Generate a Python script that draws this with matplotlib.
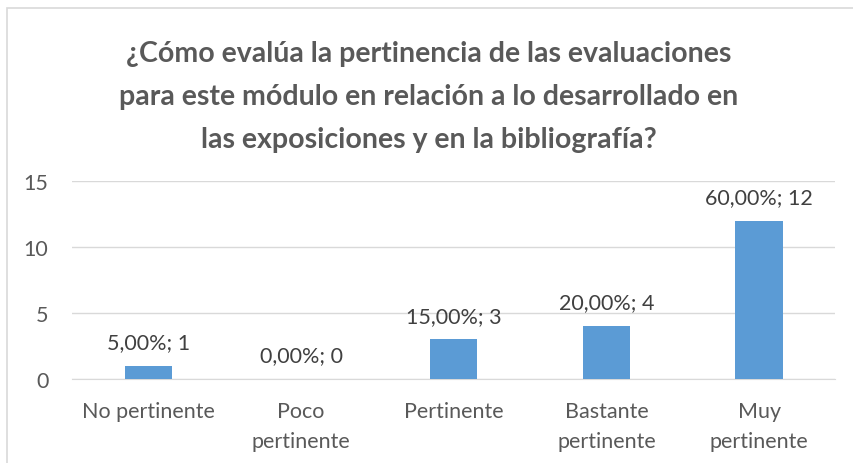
import matplotlib
matplotlib.use('Agg')
import matplotlib.pyplot as plt
from matplotlib.patches import Rectangle

plt.rcParams['font.family'] = ['Lato', 'DejaVu Sans']

# data
categories = ['No pertinente', 'Poco\npertinente', 'Pertinente', 'Bastante\npertinente', 'Muy\npertinente']
counts = [1, 0, 3, 4, 12]
percents = ['5,00%', '0,00%', '15,00%', '20,00%', '60,00%']
title = ('¿Cómo evalúa la pertinencia de las evaluaciones\n'
         'para este módulo en relación a lo desarrollado en\n'
         'las exposiciones y en la bibliografía?')

fig = plt.figure(figsize=(8.54, 4.64), dpi=100)
ax = fig.add_axes([0.0843, 0.181, 0.894, 0.427])

x = range(len(categories))
ax.bar(x, counts, width=0.31, color='#5B9BD5', zorder=3)
for i, (c, p) in enumerate(zip(counts, percents)):
    ax.annotate(f'{p}; {c}', (i, c), xytext=(0, 17), textcoords='offset points',
                ha='center', va='center', fontsize=15.5, color='#404040')

ax.set_ylim(0, 15)
ax.set_xlim(-0.5, len(categories) - 0.5)
ax.set_yticks([0, 5, 10, 15])
ax.set_xticks(list(x))
ax.set_xticklabels(categories, linespacing=1.6)
ax.tick_params(axis='both', length=0, labelsize=15.5, colors='#595959')
ax.tick_params(axis='y', pad=17)
ax.tick_params(axis='x', pad=16)
ax.grid(axis='y', color='#D9D9D9', linewidth=1, zorder=0)
for s in ['top', 'right', 'left']:
    ax.spines[s].set_visible(False)
ax.spines['bottom'].set_color('#D9D9D9')

fig.text(0.502, 0.791, title, ha='center', va='center', fontsize=20.5,
         fontweight='bold', color='#595959', linespacing=1.8)

# outer chart frame (only top and left edges fall inside the image)
fig.patches.append(Rectangle((0.008, -0.05), 1.05, 1.03, transform=fig.transFigure,
                             fill=False, edgecolor='#D9D9D9', linewidth=1.2))

fig.savefig('out.png', dpi=100)
